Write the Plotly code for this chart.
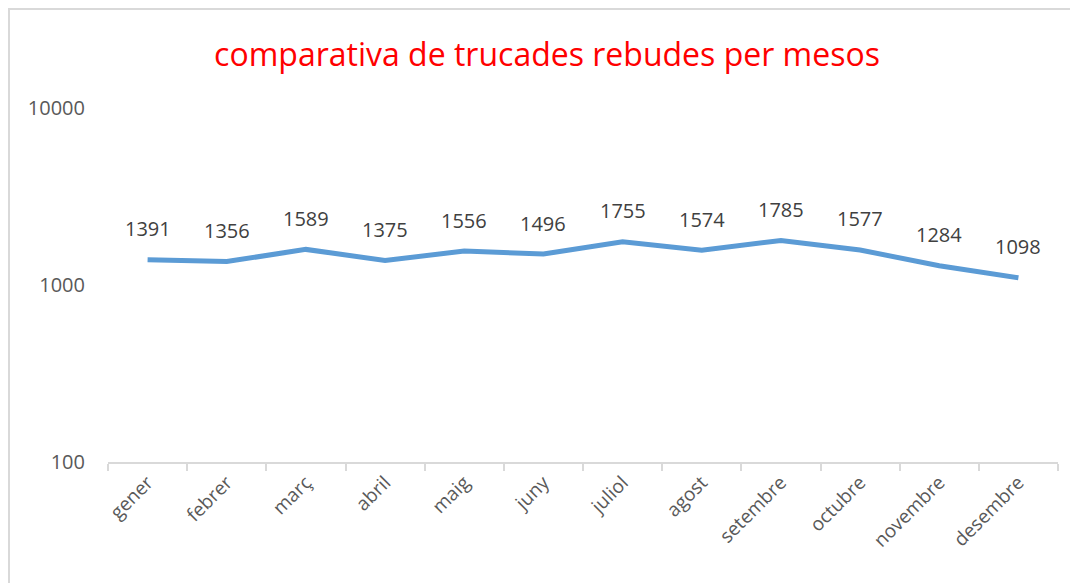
import math
import plotly.graph_objects as go

months = ["gener", "febrer", "març", "abril", "maig", "juny", "juliol",
          "agost", "setembre", "octubre", "novembre", "desembre"]
values = [1391, 1356, 1589, 1375, 1556, 1496, 1755, 1574, 1785, 1577, 1284, 1098]
y_ticks = [100, 1000, 10000]

# page has an 8px body margin; figure coordinates are page coords minus 8
OFF = 8
W, H = 1078 - OFF, 583 - OFF
L, R, T, B = 108 - OFF, 20, 108 - OFF, H - (462 - OFF)
pw, ph = W - L - R, H - T - B
FONT = "Open Sans, sans-serif"

fig = go.Figure()
fig.add_trace(go.Scatter(
    x=months, y=values, mode="lines",
    line=dict(color="#5B9BD5", width=5),
    hoverinfo="x+y", showlegend=False,
))
# data labels (log axis: annotation y given in log10 units)
for m, v in zip(months, values):
    fig.add_annotation(x=m, y=math.log10(v), yref="y", text=str(v), showarrow=False,
                       yshift=31, yanchor="middle",
                       font=dict(family=FONT, size=20, color="#404040"))

fig.update_layout(
    width=W, height=H,
    margin=dict(l=L, r=R, t=T, b=B),
    paper_bgcolor="white", plot_bgcolor="white",
    title=dict(text="comparativa de trucades rebudes per mesos",
               font=dict(family=FONT, size=32, color="#FF0000"),
               x=(547 - OFF) / W, xanchor="center", xref="container",
               y=1 - (55 - OFF) / H, yanchor="middle", yref="container"),
    xaxis=dict(type="category", range=[-0.5, 11.5], showgrid=False,
               showline=True, linecolor="#D9D9D9", linewidth=2,
               ticks="outside", tickson="boundaries", ticklen=7,
               tickcolor="#D9D9D9", tickwidth=2, tickangle=-45,
               tickfont=dict(family=FONT, size=19, color="#595959")),
    yaxis=dict(type="log", range=[2, 4], tickvals=y_ticks,
               ticktext=[str(v) for v in y_ticks], showgrid=False,
               showline=False, zeroline=False, ticks="", ticklabelstandoff=22,
               tickfont=dict(family=FONT, size=20, color="#595959")),
    shapes=[dict(type="rect", xref="paper", yref="paper",
                 x0=(1 - L) / pw, x1=(W + 5 - L) / pw,
                 y0=-(B + 5) / ph, y1=(ph + T - 1) / ph,
                 line=dict(color="#D9D9D9", width=2), fillcolor="rgba(0,0,0,0)",
                 layer="below")],
)

fig.write_html("out.html")
